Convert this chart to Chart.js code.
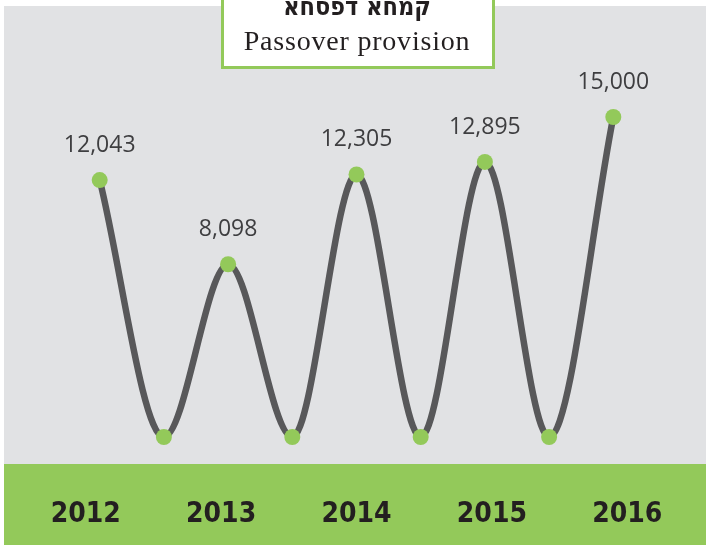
<!DOCTYPE html>
<html>
<head>
<meta charset="utf-8">
<script src="https://cdn.jsdelivr.net/npm/chart.js@4/dist/chart.umd.min.js"></script>
<style>
    body { margin: 0; background: #ffffff; }
    canvas { display: block; }
</style>
</head>
<body>
<canvas id="provisionChart" width="706" height="545"></canvas>
<script>
// Chart data
const years = ["2012", "2013", "2014", "2015", "2016"];
const pointValues = [12043, 0, 8098, 0, 12305, 0, 12895, 0, 15000];
const titleHebrew = "קמחא דפסחא";
const titleEnglish = "Passover provision";

// Colours
const bgGray = "#e1e2e4";
const bandGreen = "#93c95a";
const lineGray = "#58585a";
const dotGreen = "#93c95a";
const textDark = "#3e3e40";

const canvas = document.getElementById("provisionChart");

// Gray field + green band behind the chart
const backgroundPlugin = {
    id: "background",
    beforeDraw(chart) {
        const { ctx, width, height, chartArea } = chart;
        ctx.save();
        ctx.fillStyle = bgGray;
        ctx.fillRect(4, 6, width - 4, chartArea.bottom - 6);
        ctx.fillStyle = bandGreen;
        ctx.fillRect(4, chartArea.bottom, width - 4, height - chartArea.bottom);
        ctx.restore();
    }
};

// Value labels above the peaks
const valueLabelPlugin = {
    id: "valueLabels",
    afterDatasetsDraw(chart) {
        const { ctx } = chart;
        const meta = chart.getDatasetMeta(0);
        ctx.save();
        ctx.font = "23px 'Open Sans', sans-serif";
        ctx.fillStyle = textDark;
        ctx.textAlign = "center";
        ctx.textBaseline = "alphabetic";
        meta.data.forEach((pt, i) => {
            const v = pointValues[i];
            if (!v) return;
            ctx.fillText(v.toLocaleString("en-US"), pt.x, pt.y - 28);
        });
        ctx.restore();
    }
};

// Title box at the top
const titleBoxPlugin = {
    id: "titleBox",
    afterDraw(chart) {
        const { ctx } = chart;
        const cx = 358;
        ctx.save();
        ctx.fillStyle = "#ffffff";
        ctx.fillRect(221, -5, 274, 74);
        ctx.strokeStyle = bandGreen;
        ctx.lineWidth = 3;
        ctx.strokeRect(222.5, -5, 271, 72.5);
        ctx.fillStyle = "#231f20";
        ctx.textAlign = "center";
        ctx.textBaseline = "alphabetic";
        ctx.font = "bold 25px 'DejaVu Sans Condensed', sans-serif";
        ctx.fillText(titleHebrew, cx - 1, 15);
        ctx.font = "28px 'Liberation Serif', serif";
        ctx.letterSpacing = "0.8px";
        ctx.fillText(titleEnglish, cx - 1, 50);
        ctx.restore();
    }
};

const provisionChart = new Chart(canvas.getContext("2d"), {
    type: "line",
    data: {
        datasets: [{
            data: pointValues.map((v, i) => ({ x: i, y: v })),
            xAxisID: "xp",
            yAxisID: "y",
            borderColor: lineGray,
            borderWidth: 6.5,
            cubicInterpolationMode: "monotone",
            pointRadius: 8,
            pointBackgroundColor: dotGreen,
            pointBorderWidth: 0,
            fill: false
        }]
    },
    options: {
        responsive: false,
        animation: false,
        layout: { autoPadding: false, padding: { left: 18, right: 11, top: 0, bottom: 0 } },
        plugins: {
            legend: { display: false },
            tooltip: { enabled: false }
        },
        scales: {
            x: {
                type: "category",
                labels: years,
                offset: true,
                position: "bottom",
                grid: { display: false },
                border: { display: false },
                ticks: {
                    color: "#231f20",
                    padding: 26,
                    font: { family: "'DejaVu Sans Condensed', sans-serif", weight: "bold", size: 28 }
                },
                afterFit(axis) { axis.height = 81; }
            },
            xp: {
                type: "linear",
                display: false,
                min: -1.2725,
                max: 9.2725
            },
            y: {
                display: false,
                min: -1266,
                max: 20484
            }
        }
    },
    plugins: [backgroundPlugin, valueLabelPlugin, titleBoxPlugin]
});
</script>
</body>
</html>
